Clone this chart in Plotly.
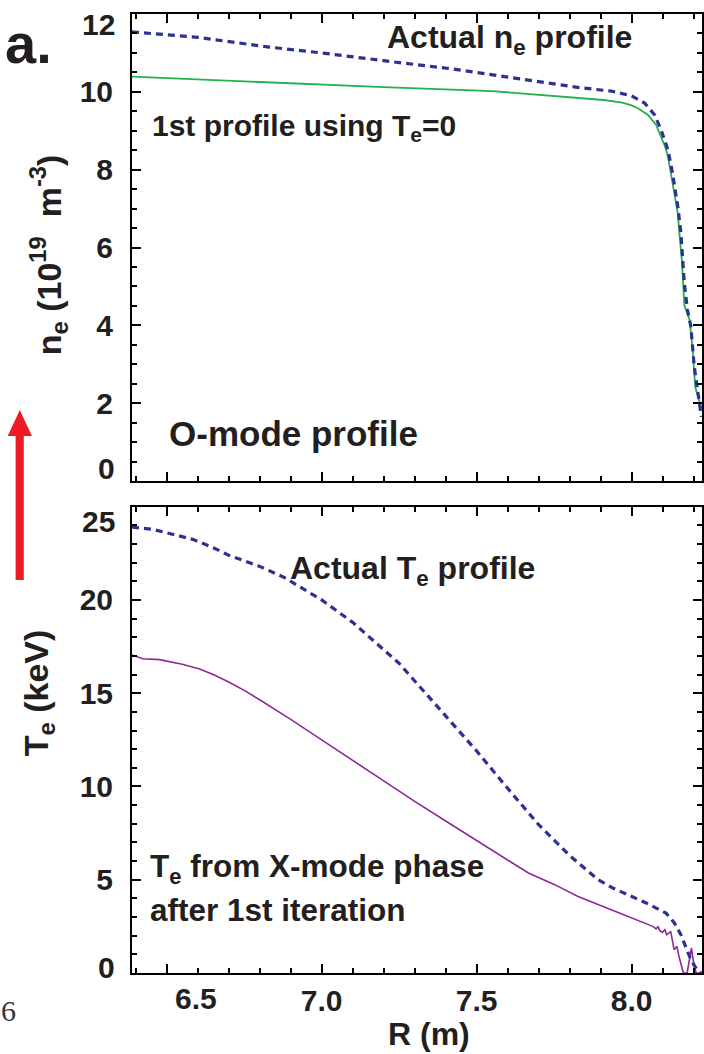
import plotly.graph_objects as go

# ---------------- data ----------------
R_ne_actual = [6.388, 6.6, 6.83, 7.0, 7.2, 7.42, 7.6, 7.84, 7.934, 7.999, 8.042, 8.074, 8.095,
               8.117, 8.132, 8.149, 8.159, 8.170, 8.180, 8.191, 8.202, 8.212, 8.225]
ne_actual = [11.54, 11.40, 11.15, 11.0, 10.80, 10.59, 10.38, 10.10, 10.02, 9.90, 9.71, 9.41, 9.02,
             8.51, 7.91, 7.05, 6.37, 5.08, 4.40, 3.97, 2.94, 2.34, 1.65]

R_ne_first = [6.388, 6.6, 6.83, 7.0, 7.2, 7.55, 7.75, 7.91, 7.97, 8.0, 8.02, 8.052, 8.079, 8.095,
              8.108, 8.117, 8.127, 8.138, 8.149, 8.154, 8.162, 8.170, 8.187, 8.197, 8.205, 8.225]
ne_first = [10.39, 10.32, 10.23, 10.18, 10.12, 10.02, 9.90, 9.79, 9.72, 9.65, 9.58, 9.41, 9.15, 8.85,
            8.59, 8.34, 7.91, 7.40, 6.88, 6.37, 5.68, 4.52, 4.14, 3.37, 2.42, 1.87]

R_Te_actual = [6.388, 6.45, 6.5, 6.584, 6.65, 6.7, 6.8, 6.88, 7.0, 7.1, 7.25, 7.4, 7.5, 7.6, 7.7,
               7.8, 7.85, 7.892, 7.94, 7.988, 8.053, 8.111, 8.138, 8.159, 8.175, 8.191, 8.212, 8.225]
Te_actual = [23.9, 23.8, 23.6, 23.25, 22.8, 22.4, 21.8, 21.2, 20.0, 18.8, 16.6, 13.8, 11.9, 9.9,
             7.95, 6.3, 5.6, 5.0, 4.55, 4.2, 3.71, 3.21, 2.68, 2.05, 1.43, 0.71, 0.14, 0.0]

R_Te_xmode = [6.388, 6.423, 6.477, 6.55, 6.606, 6.65, 6.7, 6.75, 6.8, 6.9, 7.0, 7.1, 7.2, 7.3, 7.4,
              7.495, 7.58, 7.667, 7.75, 7.827, 7.934, 8.042, 8.068, 8.079, 8.085, 8.090, 8.099,
              8.107, 8.113, 8.120, 8.126, 8.137, 8.146, 8.154, 8.161, 8.167, 8.179, 8.186, 8.193,
              8.200, 8.208, 8.225]
Te_xmode = [17.05, 16.85, 16.8, 16.55, 16.3, 16.0, 15.6, 15.15, 14.65, 13.6, 12.5, 11.4, 10.3, 9.2,
            8.15, 7.15, 6.25, 5.36, 4.75, 4.10, 3.39, 2.68, 2.50, 2.36, 2.50, 2.28, 2.18,
            2.32, 2.05, 2.14, 2.23, 1.25, 1.43, 0.80, 0.36, 0.0, 0.0, 0.71, 1.34,
            0.54, 0.0, 0.0]

x_tickvals = [6.5, 7.0, 7.5, 8.0]
x_ticktext = ["", "7.0", "7.5", "8.0"]
ne_tickvals = [0, 2, 4, 6, 8, 10, 12]
ne_ticktext = ["", "2", "4", "6", "8", "10", ""]
Te_tickvals = [0, 5, 10, 15, 20, 25]
Te_ticktext = ["", "5", "10", "15", "20", ""]

# ---------------- layout helpers ----------------
W, H = 704, 1054
ML, MR, MT, MB = 132, 0, 14, 81
PW, PH = W - ML - MR, H - MT - MB


def xp(px):
    return (px - ML) / PW


def yp(py):
    return (H - MB - py) / PH


INK = "#231F20"
NAVY = "#2E3192"
GREEN = "#22B14C"
PURPLE = "#8E2A96"
RED = "#ED1C24"
FONT = "Liberation Sans"

fig = go.Figure()

fig.add_trace(go.Scatter(x=R_ne_first, y=ne_first, mode="lines", xaxis="x", yaxis="y",
                         line=dict(color=GREEN, width=1.8), showlegend=False))
fig.add_trace(go.Scatter(x=R_ne_actual, y=ne_actual, mode="lines", xaxis="x", yaxis="y",
                         line=dict(color=NAVY, width=3.2, dash="7px,5px"), showlegend=False))
fig.add_trace(go.Scatter(x=R_Te_xmode, y=Te_xmode, mode="lines", xaxis="x2", yaxis="y2",
                         line=dict(color=PURPLE, width=1.6), showlegend=False))
fig.add_trace(go.Scatter(x=R_Te_actual, y=Te_actual, mode="lines", xaxis="x2", yaxis="y2",
                         line=dict(color=NAVY, width=3.2, dash="7px,5px"), showlegend=False))

tickfont = dict(family=FONT, size=30, color=INK, weight="bold")
common = dict(showline=True, linecolor="black", linewidth=2, mirror="allticks",
              ticks="inside", ticklen=9, tickwidth=2, tickcolor="black",
              showgrid=False, zeroline=False, tickfont=tickfont)

xr = [6.388, 8.227]
top_lo = yp(481)
bot_hi = yp(506.7)

fig.update_layout(
    width=W, height=H,
    margin=dict(l=ML, r=MR, t=MT, b=MB),
    paper_bgcolor="white", plot_bgcolor="white",
    xaxis=dict(domain=[0, 1], anchor="y", range=xr, tickmode="array", tickvals=x_tickvals,
               showticklabels=False,
               minor=dict(tickmode="linear", tick0=6.0, dtick=0.1, ticks="inside", ticklen=5,
                          tickwidth=1.5, tickcolor="black"),
               **common),
    yaxis=dict(domain=[top_lo, 1], anchor="x", range=[0, 12], tickmode="array",
               tickvals=ne_tickvals, ticktext=ne_ticktext, ticklabelstandoff=11,
               minor=dict(tickmode="linear", tick0=0, dtick=0.5, ticks="inside", ticklen=5,
                          tickwidth=1.5, tickcolor="black"),
               **common),
    xaxis2=dict(domain=[0, 1], anchor="y2", range=xr, tickmode="array", tickvals=x_tickvals,
                ticktext=x_ticktext, ticklabelstandoff=0,
                minor=dict(tickmode="linear", tick0=6.0, dtick=0.1, ticks="inside", ticklen=5,
                           tickwidth=1.5, tickcolor="black"),
                **common),
    yaxis2=dict(domain=[0, bot_hi], anchor="x2", range=[0, 25], tickmode="array",
                tickvals=Te_tickvals, ticktext=Te_ticktext, ticklabelstandoff=11,
                minor=dict(tickmode="linear", tick0=0, dtick=1, ticks="inside", ticklen=5,
                           tickwidth=1.5, tickcolor="black"),
                **common),
)


def txt(text, px, py, size, xanchor="left", yanchor="middle", angle=0, family=FONT, weight="bold",
        color=INK):
    fig.add_annotation(text=text, x=xp(px), y=yp(py), xref="paper", yref="paper",
                       xanchor=xanchor, yanchor=yanchor, showarrow=False, textangle=angle,
                       font=dict(family=family, size=size, color=color, weight=weight))


txt("Actual n<sub>e</sub> profile", 511, 40, 32, xanchor="center")
txt("1st profile using T<sub>e</sub>=0", 150, 128, 30)
txt("O-mode profile", 167, 433, 35)
txt("Actual T<sub>e</sub> profile", 289, 570, 32)
txt("T<sub>e</sub> from X-mode phase", 148, 868, 31.5)
txt("after 1st iteration", 148, 910, 31.5)
txt("n<sub>e</sub> (10<sup>19</sup>  m<sup>-3</sup>)", 48, 255, 34, xanchor="center", angle=-90)
txt("T<sub>e</sub> (keV)", 38, 693, 34, xanchor="center", angle=-90)
txt("R (m)", 430, 1034, 32, xanchor="center")
txt("a.", 28, 44, 56, xanchor="center")
txt("6", 8, 1010, 30, xanchor="center", family="Liberation Serif", weight="normal", color="#333333")

labfont = dict(family=FONT, size=30, color=INK, weight="bold")

# "6.5" tick label, offset to the right of its tick as in the original
fig.add_annotation(text="6.5", x=6.5, y=0, xref="x2", yref="y2", xshift=29, yshift=-7,
                   xanchor="center", yanchor="top", showarrow=False, font=labfont)

# end-of-axis tick labels, nudged inward as in the original
for text, yv, yref, ys in [("12", 12, "y", -10), ("0", 0, "y", 13),
                           ("25", 25, "y2", -15), ("0", 0, "y2", 6)]:
    fig.add_annotation(text=text, x=0, y=yv, xref="paper", yref=yref, xshift=-15, yshift=ys,
                       xanchor="right", yanchor="middle", showarrow=False, font=labfont)

# red arrow (decoration)
fig.add_shape(type="rect", xref="paper", yref="paper", x0=xp(15.2), x1=xp(23.4), y0=yp(580), y1=yp(434),
              fillcolor=RED, line=dict(width=0))
fig.add_shape(type="path", xref="paper", yref="paper",
              path=f"M {xp(7.3)} {yp(436)} L {xp(19.4)} {yp(410)} L {xp(31.6)} {yp(436)} Z",
              fillcolor=RED, line=dict(width=0))

fig.write_html("out.html")
